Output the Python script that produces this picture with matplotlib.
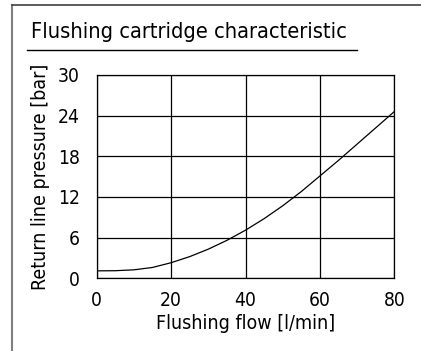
import numpy as np
import matplotlib
matplotlib.use("Agg")
import matplotlib.pyplot as plt
from matplotlib.lines import Line2D

# Flushing cartridge: return line pressure vs. flushing flow
flow = [0, 5, 10, 15, 20, 25, 30, 35, 40, 45, 50, 55, 60, 65, 70, 75, 80]
pressure = [1.1, 1.12, 1.25, 1.6, 2.3, 3.2, 4.3, 5.6, 7.1, 8.8, 10.7, 12.8,
            15.1, 17.4, 19.8, 22.2, 24.6]

x_ticks = [0, 20, 40, 60, 80]
y_ticks = [0, 6, 12, 18, 24, 30]

plt.rcParams["font.family"] = ["DejaVu Sans"]
plt.rcParams["font.stretch"] = "condensed"

W, H = 421, 351
fig = plt.figure(figsize=(W / 100, H / 100), dpi=100)
ax = fig.add_axes([96.7 / W, 1 - 278.3 / H, (394.3 - 96.7) / W, (278.3 - 75) / H])

ax.plot(flow, pressure, color="black", lw=0.9)
ax.set_xlim(0, 80)
ax.set_ylim(0, 30)
ax.set_xticks(x_ticks)
ax.set_yticks(y_ticks)
ax.grid(True, color="black", lw=0.9)
ax.tick_params(length=0, labelsize=13.8, pad=9)
ax.tick_params(axis="y", pad=12)
for s in ax.spines.values():
    s.set_linewidth(0.9)
ax.set_xlabel("Flushing flow [l/min]", fontsize=14, labelpad=3)
ax.set_ylabel("Return line pressure [bar]", fontsize=14, labelpad=6)

# Panel frame, title and underline
fig.add_artist(Line2D([12 / W, 12 / W], [0, 1 - 5 / H], color="#808080", lw=1.5,
                      transform=fig.transFigure))
fig.add_artist(Line2D([12 / W, 1], [1 - 5 / H, 1 - 5 / H], color="#404040", lw=1.2,
                      transform=fig.transFigure))
fig.text(31 / W, 1 - 32 / H, "Flushing cartridge characteristic", fontsize=15.7,
         ha="left", va="center")
fig.add_artist(Line2D([27 / W, 357 / W], [1 - 50 / H, 1 - 50 / H], color="black", lw=1.0,
                      transform=fig.transFigure))

fig.savefig("out.png", dpi=100)
